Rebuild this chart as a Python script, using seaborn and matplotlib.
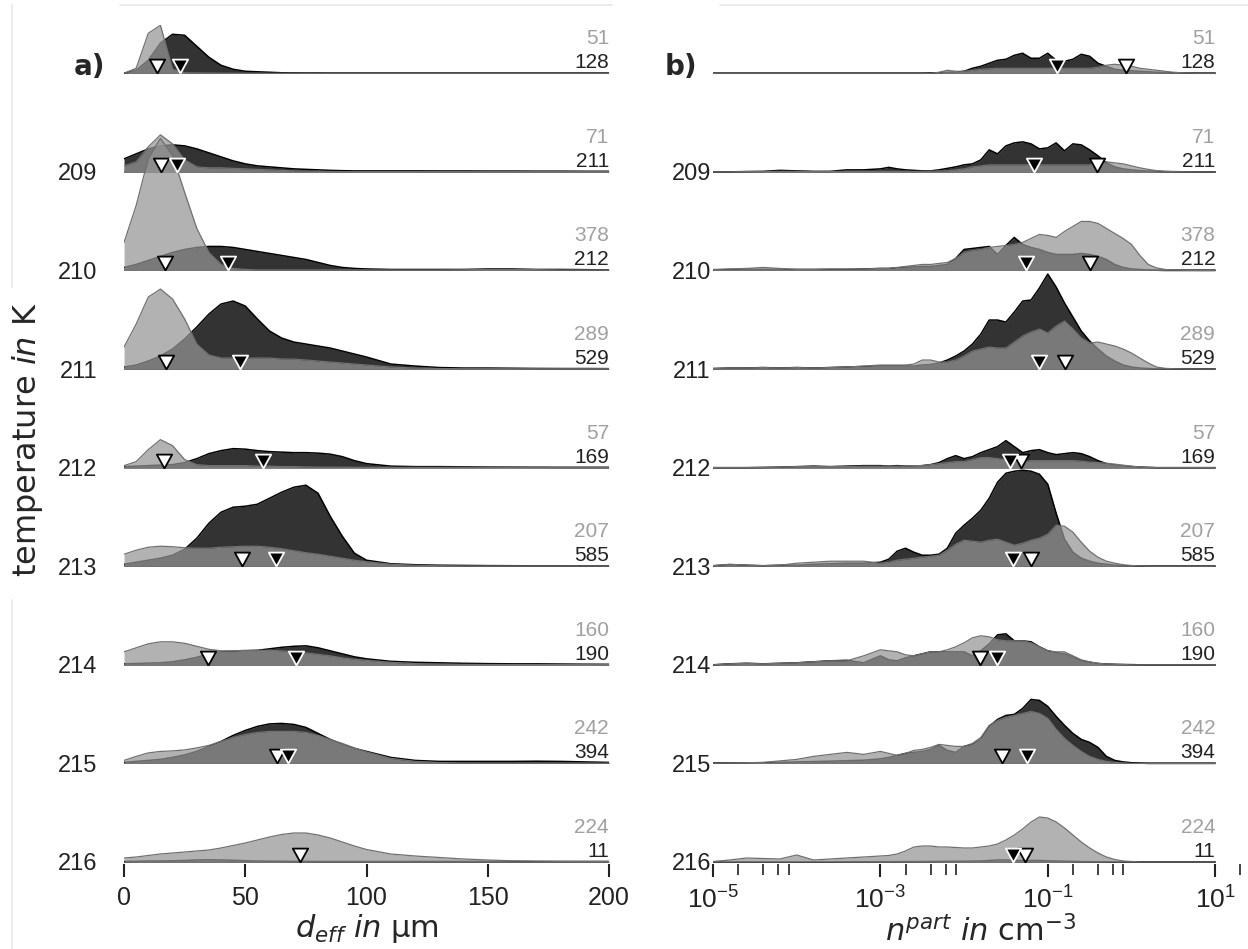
import numpy as np
import matplotlib
matplotlib.use("Agg")
import matplotlib.pyplot as plt
from matplotlib.lines import Line2D
import seaborn as sns

# ---- data ----
# row labels (temperature in K); the first row carries no label
temps = ["", "209", "210", "211", "212", "213", "214", "215", "216"]
n_light = [51, 71, 378, 289, 57, 207, 160, 242, 224]
n_dark = [128, 211, 212, 529, 169, 585, 190, 394, 11]

# panel a) sample points of d_eff in um
d_eff = [0, 5, 10, 15, 20, 25, 30, 35, 40, 45, 50, 55, 60, 65, 70, 75, 80, 85, 90, 95, 100,
         110, 120, 130, 140, 150, 160, 170, 180, 190, 200]

# ridge heights (scaled density) per row, light and dark distribution
a_light_0 = [0, 5, 40, 48, 4, 0.5, 0.3, 0.2, 0.1, 0, 0, 0, 0, 0, 0, 0, 0, 0, 0, 0, 0,
             0, 0, 0, 0, 0, 0, 0, 0, 0, 0]
a_dark_0 = [0, 3, 13, 30, 39, 38, 27, 16, 8, 4, 2, 1.5, 1, 0.5, 0.3, 0.2, 0.2, 0.1, 0.1, 0.1, 0.1,
            0.1, 0.1, 0.1, 0.1, 0.1, 0.1, 0.1, 0.1, 0.1, 0.1]
a_light_1 = [6, 10, 25, 37, 28, 12, 5, 4, 4, 3.5, 3, 2.5, 2, 1.5, 1, 0.7, 0.5, 0.4, 0.3, 0.3, 0.3,
             0.3, 0.3, 0.2, 0.2, 0.2, 0.2, 0.2, 0.2, 0.2, 0.2]
a_dark_1 = [13, 18, 23, 26, 27, 26, 23, 19, 15, 11, 8, 6, 5, 4, 3, 2.5, 2, 1.5, 1.2, 1, 1,
            1, 1, 0.9, 0.9, 0.8, 0.8, 0.7, 0.7, 0.6, 0.6]
a_light_2 = [28, 65, 112, 132, 115, 78, 42, 18, 6, 2, 1, 0.5, 0.5, 0.5, 0.5, 0.5, 0.5, 0.5, 0.5, 0.5, 0.5,
             0.5, 0.5, 0.5, 0.7, 1, 1, 0.8, 0.5, 0.5, 0.5]
a_dark_2 = [3, 6, 10, 14, 18, 21, 23, 24, 24, 23, 21, 19, 17, 15, 13, 11, 8, 5, 3, 2, 1.5,
            1, 1, 1, 1, 1.5, 1.5, 1, 1, 0.8, 0.5]
a_light_3 = [22, 45, 72, 80, 70, 50, 25, 14, 11, 11, 11, 11, 11, 10, 10, 9, 8, 7, 6, 5, 4,
             2, 1, 0.5, 0.3, 0.3, 0.3, 0.3, 0.3, 0.3, 0.3]
a_dark_3 = [2, 4, 8, 13, 20, 30, 42, 55, 65, 68, 63, 50, 38, 31, 27, 25, 23, 21, 18, 15, 12,
            5, 3, 1.5, 1, 1, 0.8, 0.6, 0.5, 0.5, 0.4]
a_light_4 = [2, 6, 18, 28, 22, 8, 3, 2, 2, 2, 2, 1.5, 1.5, 1, 1, 0.7, 0.5, 0.5, 0.4, 0.3, 0.3,
             0.3, 0.3, 0.3, 0.3, 0.3, 0.3, 0.3, 0.3, 0.3, 0.3]
a_dark_4 = [1, 1.5, 2, 2.5, 3, 5, 9, 14, 17, 19, 18.5, 17, 16, 15.5, 15, 15, 14.5, 13.5, 11, 7, 4,
            1.5, 1, 1, 0.8, 0.6, 0.5, 0.4, 0.3, 0.3, 0.3]
a_light_5 = [12, 16, 19, 20, 19.5, 18.5, 18, 18, 19, 19.5, 20, 20, 19, 17.5, 15.5, 13.5, 12, 10, 8, 6, 4.5,
             2, 1, 0.5, 0.3, 0.3, 0.3, 0.3, 0.3, 0.3, 0.3]
a_dark_5 = [2, 4, 6, 8, 11, 17, 28, 43, 54, 59, 60, 62, 68, 74, 79, 81, 73, 50, 30, 13, 6,
            2.5, 1.5, 1, 0.8, 0.6, 0.5, 0.4, 0.3, 0.3, 0.3]
a_light_6 = [13, 17, 21, 23, 23, 21.5, 18.5, 15.5, 14, 14, 14.5, 14.5, 14.5, 14, 13, 12, 10.5, 9, 7, 5.5, 4.5,
             2.5, 1.2, 0.6, 0.4, 0.3, 0.3, 0.3, 0.3, 0.3, 0.3]
a_dark_6 = [1, 1.3, 1.7, 2, 3, 5, 7.5, 11, 13, 13.5, 14, 14.5, 16, 17.5, 18.5, 19, 17, 14, 11, 8, 6,
            3.5, 2.5, 2, 1.5, 1.2, 1, 1, 0.8, 0.6, 0.5]
a_light_7 = [3, 7, 10.5, 12, 12.5, 13.5, 15.5, 18, 22, 26, 29, 31, 32, 32, 32, 31, 28, 24, 20, 15.5, 11.5,
             5, 2, 0.8, 0.4, 0.3, 0.3, 0.3, 0.3, 0.3, 0.3]
a_dark_7 = [1, 2, 3, 4, 6, 8.5, 12, 17, 22, 28, 33, 37, 39.5, 40, 39, 36, 30, 24, 19, 15, 12,
            6, 3, 2, 2, 2, 2, 2.2, 2, 1.5, 1]
a_light_8 = [4, 5, 6.5, 8, 9, 10, 11, 12, 14, 16.5, 19, 22, 25, 27.5, 29, 29, 27, 24, 20, 16, 12.5,
             8, 6, 4.5, 3, 2, 1.2, 0.8, 0.6, 0.5, 0.5]
a_dark_8 = [0.5, 0.7, 1, 1, 1.2, 1.5, 2, 2.2, 2, 1.7, 1.3, 1, 0.8, 0.7, 0.6, 0.6, 0.5, 0.5, 0.5, 0.5, 0.5,
            0.5, 0.5, 0.5, 0.5, 0.5, 0.5, 0.5, 0.5, 0.5, 0.5]

# medians (triangles) in panel a), um
a_med_light = [13.6, 15.3, 17, 17.3, 16.5, 48.7, 34.6, 63, 72.5]
a_med_dark = [23, 22, 43, 48, 57.5, 62.5, 71, 67.5, np.nan]

# panel b) sample points, log10 of n_part in cm^-3
b_log_n = [-5.0, -4.8, -4.6, -4.4, -4.2, -4.0, -3.8, -3.6, -3.4, -3.2,
           -3.0, -2.9, -2.8, -2.7, -2.6, -2.5, -2.4, -2.3, -2.2, -2.1,
           -2.0, -1.9, -1.8, -1.7, -1.6, -1.5, -1.4, -1.3, -1.2, -1.1,
           -1.0, -0.9, -0.8, -0.7, -0.6, -0.5, -0.4, -0.3, -0.2, -0.1,
           0.0, 0.1, 0.2, 0.3, 0.4, 0.5, 0.6, 0.8, 1.0]

b_light_0 = [0, 0, 0, 0, 0, 0, 0, 0, 0, 0,
             0, 0, 0, 0, 0, 0, 0, 1, 3, 2,
             2, 3, 4, 4.5, 5, 5, 5, 5, 5, 5,
             5, 5, 5, 5, 5, 5, 6, 8, 9, 8,
             7, 5, 4, 3, 2, 1, 0.5, 0, 0]
b_dark_0 = [0, 0, 0, 0, 0, 0, 0, 0, 0, 0,
            0, 0, 0, 0, 0, 0, 0.3, 0.5, 1, 1,
            2, 5, 7, 10, 13, 14, 18, 20, 15, 15,
            20, 13, 12, 14, 19, 17, 10, 7, 4, 3,
            2.5, 2, 1.5, 1, 0.7, 0.4, 0.2, 0, 0]
b_light_1 = [0, 0, 0.3, 0.3, 0.5, 0.5, 0.3, 0.3, 0.5, 0.5,
             0.5, 0.5, 0.5, 0.5, 0.5, 0.5, 0.7, 0.8, 1, 2,
             3, 5, 6, 7, 7, 7, 7, 7, 7, 7,
             7, 7, 7, 7, 7, 7, 9, 10, 9, 8,
             6, 4, 2.5, 1.2, 0.5, 0.2, 0.1, 0, 0]
b_dark_1 = [0, 0, 0.3, 0.5, 1.5, 1, 0.5, 0.5, 2, 2,
            3, 4.5, 3, 2, 1.5, 1, 1, 2, 3.5, 5,
            7, 8, 12, 22, 18, 26, 29, 30, 28, 23,
            24, 29, 21, 28, 27, 22, 16, 9, 5, 3,
            2, 1.2, 0.8, 0.5, 0.3, 0.2, 0.1, 0, 0]
b_light_2 = [1, 1.5, 2, 3, 2, 1, 1, 1.5, 1.5, 1.5,
             2, 2, 3, 4, 5, 6, 6, 7, 8, 12,
             18, 20, 21, 23, 24, 25, 26, 28, 32, 36,
             35, 33, 39, 44, 49, 49, 47, 42, 37, 32,
             26, 15, 6, 2.5, 1, 0.4, 0.2, 0, 0]
b_dark_2 = [0.5, 1, 1, 1, 1, 1, 1, 1, 1, 1.5,
            2, 2, 2.5, 3, 3.5, 4, 4, 5, 6, 12,
            21, 22, 23, 24, 16, 25, 33, 26, 23, 21,
            18, 16, 16, 16, 17, 16, 14, 11, 6, 3,
            1.5, 1, 0.5, 0.2, 0, 0, 0, 0, 0]
b_light_3 = [0.5, 1, 1, 1.5, 1, 1.5, 1, 1.5, 2, 3,
             4, 4, 4, 4, 5, 9, 9, 7, 7, 9,
             13, 18, 20, 22, 21, 21, 27, 33, 37, 40,
             36, 43, 48, 40, 31, 26, 27, 25, 23, 20,
             16, 11, 6, 2, 0.7, 0.3, 0.1, 0, 0]
b_dark_3 = [0.5, 1, 1, 1.5, 1, 1.5, 1, 1.5, 2, 2.5,
            3, 3, 3, 3, 3, 4, 4.5, 6, 9, 13,
            18, 25, 35, 49, 49, 47, 57, 68, 69, 81,
            95, 82, 66, 52, 38, 28, 20, 13, 8, 4,
            2, 1, 0.5, 0.2, 0, 0, 0, 0, 0]
b_light_4 = [0, 0, 0, 0.2, 0.5, 1, 1, 1, 1, 1.5,
             1.5, 1.5, 1.5, 1.5, 2, 2, 3, 4, 5, 6,
             6, 8, 10, 10, 9, 8, 7, 6, 7, 7,
             7, 7, 7, 7, 6.5, 5.5, 5, 4.5, 3.5, 2.5,
             1.5, 0.6, 0.1, 0, 0, 0, 0, 0, 0]
b_dark_4 = [0, 0, 0, 0.2, 0.5, 1, 1.5, 1, 1.5, 2,
            2, 1.5, 2, 1.5, 1.5, 2, 3, 5, 9, 12,
            9, 11, 15, 18, 21, 27, 21, 15, 17, 18,
            15, 13, 14, 15, 14, 11, 7, 4, 2.5, 1.5,
            1, 0.5, 0.3, 0, 0, 0, 0, 0, 0]
b_light_5 = [0.5, 2, 1, 0.5, 1, 3, 4, 5, 5, 5,
             3, 4, 6, 7, 8, 9, 10, 11, 16, 22,
             26, 25, 24, 26, 27, 24, 21, 23, 26, 28,
             32, 41, 40, 34, 24, 15, 9, 5, 3, 1.5,
             0.7, 0.3, 0, 0, 0, 0, 0, 0, 0]
b_dark_5 = [0.5, 1.5, 1, 0.5, 1, 1, 2, 2.5, 3, 3,
            4, 7, 15, 18, 14, 11, 11, 12, 18, 33,
            41, 48, 56, 68, 84, 93, 95, 96, 95, 92,
            82, 53, 27, 14, 8, 5, 3, 2, 1, 0.5,
            0.3, 0, 0, 0, 0, 0, 0, 0, 0]
b_light_6 = [0, 1, 1.5, 1, 1.5, 2, 3, 4, 4, 9,
             15, 14, 13, 10, 9, 11, 13, 13, 15, 18,
             22, 27, 29, 28, 25, 24, 24, 24, 22, 18,
             14, 13, 13, 9, 5, 3, 1.5, 0.8, 0.5, 0.3,
             0, 0, 0, 0, 0, 0, 0, 0, 0]
b_dark_6 = [0, 1, 1.5, 1, 1.5, 2, 3, 4, 4.5, 2,
            9, 5, 4, 7, 9, 11, 13, 13, 13, 13,
            13, 9, 14, 21, 30, 31, 24, 24, 23, 18,
            14, 12, 11, 8, 4, 2.5, 1.3, 0.8, 0.5, 0.3,
            0.2, 0, 0, 0, 0, 0, 0, 0, 0]
b_light_7 = [0.3, 0.5, 0.7, 1, 2.5, 4, 7, 9, 11, 9,
             12, 10, 8, 10, 13, 14, 16, 19, 18, 17,
             17, 20, 26, 38, 43, 46, 48, 50, 52, 50,
             45, 34, 25, 18, 12, 7, 4, 2, 1, 0.5,
             0, 0, 0, 0, 0, 0, 0, 0, 0]
b_dark_7 = [0.3, 0.5, 0.5, 0.7, 1, 1.5, 1.8, 2.2, 2.7, 3.2,
            4.5, 6, 8, 10, 11, 12, 14, 18, 13, 11,
            17, 19, 24, 37, 44, 48, 49, 55, 64, 63,
            57, 47, 38, 30, 24, 21, 16, 7, 3, 1.5,
            0.7, 0.3, 0, 0, 0, 0, 0, 0, 0]
b_light_8 = [0.5, 2, 4, 3.5, 3, 7, 2, 3, 4, 5,
             6, 6.5, 8, 11, 15, 16, 16, 15, 15, 14.5,
             14, 14, 15, 16, 18, 22, 27, 33, 40, 45,
             44, 40, 34, 27, 20, 14, 9, 5, 2.5, 1,
             0.5, 0, 0, 0, 0, 0, 0, 0, 0]
b_dark_8 = [0, 0, 0, 0, 0, 0, 0, 0, 0.2, 0.2,
            0.3, 0.3, 0.3, 0.4, 0.4, 0.5, 0.5, 0.6, 0.7, 0.7,
            0.8, 0.9, 1, 1.5, 2, 2, 1.5, 1.5, 1.5, 1.5,
            1.2, 1, 0.8, 0.6, 0.4, 0.3, 0.2, 0.1, 0, 0,
            0, 0, 0, 0, 0, 0, 0, 0, 0]

# medians in panel b), log10 of n_part
b_med_light = [-0.07, -0.41, -0.50, -0.80, -1.32, -1.20, -1.81, -1.55, -1.27]
b_med_dark = [-0.89, -1.16, -1.26, -1.11, -1.45, -1.42, -1.61, -1.25, -1.42]

a_light = [a_light_0, a_light_1, a_light_2, a_light_3, a_light_4, a_light_5, a_light_6, a_light_7, a_light_8]
a_dark = [a_dark_0, a_dark_1, a_dark_2, a_dark_3, a_dark_4, a_dark_5, a_dark_6, a_dark_7, a_dark_8]
b_light = [b_light_0, b_light_1, b_light_2, b_light_3, b_light_4, b_light_5, b_light_6, b_light_7, b_light_8]
b_dark = [b_dark_0, b_dark_1, b_dark_2, b_dark_3, b_dark_4, b_dark_5, b_dark_6, b_dark_7, b_dark_8]

# ---- style ----
sns.set_theme(style="white")
plt.rcParams["font.family"] = ["Liberation Sans", "DejaVu Sans"]
plt.rcParams["mathtext.fontset"] = "dejavusans"

ROW_PX = 98.6          # height units per ridge spacing
LIGHT = "#959595"
DARK = "#333333"
tri = [(0, 0), (-0.55, 1), (0.55, 1), (0, 0)]   # down triangle with tip at the anchor

fig = plt.figure(figsize=(12.48, 9.49), dpi=100)
ax_a = fig.add_axes([0.0994, 0.0896, 0.3886, 0.8841])
ax_b = fig.add_axes([0.5713, 0.0896, 0.4287, 0.8841])


def draw_ridges(ax, x, light_rows, dark_rows, med_light, med_dark, x_end):
    x = np.asarray(x, dtype=float)
    for i in range(9):
        base = 8 - i
        z = 2 + i
        ax.plot([x[0], x_end], [base, base], color="#7f7f7f", lw=1.3, zorder=z)
        yd = base + np.asarray(dark_rows[i]) / ROW_PX
        ax.fill_between(x, base, yd, color=DARK, lw=0, zorder=z)
        sns.lineplot(x=x, y=yd, ax=ax, color="black", lw=1.1, zorder=z,
                     estimator=None, sort=False, legend=False)
        yl = base + np.asarray(light_rows[i]) / ROW_PX
        ax.fill_between(x, base, yl, color=LIGHT, alpha=0.72, lw=0, zorder=z)
        sns.lineplot(x=x, y=yl, ax=ax, color="#707070", lw=0.9, zorder=z,
                     estimator=None, sort=False, legend=False)
        # counts of light / dark samples
        ax.text(x_end, base + 5 / ROW_PX, str(n_dark[i]), ha="right", va="baseline",
                fontsize=15, color="#222222", zorder=30)
        ax.text(x_end, base + 29 / ROW_PX, str(n_light[i]), ha="right", va="baseline",
                fontsize=15, color="#a0a0a0", zorder=30)
    bases = 8 - np.arange(9)
    ax.scatter(med_light, bases, marker=tri, s=400, facecolor="white",
               edgecolor="black", linewidth=1.3, zorder=40)
    ax.scatter(med_dark, bases, marker=tri, s=400, facecolor="black",
               edgecolor="white", linewidth=1.3, zorder=40)
    ax.set_yticks(bases)
    ax.set_yticklabels(temps, fontsize=17, color="#222222")
    sns.despine(ax=ax, left=True, bottom=True)
    ax.grid(False)


draw_ridges(ax_a, d_eff, a_light, a_dark, a_med_light, a_med_dark, 200)
ax_a.set_xticks([0, 50, 100, 150, 200])
ax_a.set_xlim(0, 200)
ax_a.set_ylim(-0.02, 8.49)
ax_a.tick_params(axis="x", direction="out", length=9, width=1.5, color="#222222",
                 pad=7, labelsize=18, labelcolor="#222222", bottom=True)
ax_a.tick_params(axis="y", length=0, pad=19)
ax_a.set_xlabel(r"$d_{eff}$ $in$ µm", fontsize=22, family="DejaVu Sans", labelpad=1)

x_b = np.power(10.0, b_log_n)
draw_ridges(ax_b, x_b, b_light, b_dark, np.power(10.0, b_med_light),
            np.power(10.0, b_med_dark), 10.0)
ax_b.set_xscale("log")
ax_b.set_xticks([1e-5, 1e-3, 1e-1, 1e1])
ax_b.set_xticklabels([r"$\mathregular{10^{-5}}$", r"$\mathregular{10^{-3}}$",
                      r"$\mathregular{10^{-1}}$", r"$\mathregular{10^{1}}$"])
minor = [m * 10.0 ** e for e in (-5, -3, -1) for m in (2, 4, 6, 8)] + [20.0]
ax_b.set_xticks(minor, minor=True)
ax_b.set_xticklabels([], minor=True)
ax_b.set_xlim(1e-5, 10 ** 1.392)
ax_b.set_ylim(-0.02, 8.49)
ax_b.tick_params(axis="x", which="major", direction="out", length=9, width=1.5,
                 color="#222222", pad=7, labelsize=19, labelcolor="#222222", bottom=True)
ax_b.tick_params(axis="x", which="minor", direction="out", length=8, width=1.2,
                 color="#222222", bottom=True)
ax_b.tick_params(axis="y", length=0, pad=1.5)
ax_b.set_xlabel(r"$n^{part}$ $in$ cm$^{-3}$", fontsize=22, family="DejaVu Sans", labelpad=1)

# panel letters and shared y label
fig.text(90 / 1248, 1 - 67 / 949, "a)", fontsize=20, fontweight="bold",
         family="DejaVu Sans", ha="center", va="center")
fig.text(681 / 1248, 1 - 67 / 949, "b)", fontsize=20, fontweight="bold",
         family="DejaVu Sans", ha="center", va="center")
fig.text(28 / 1248, 1 - 440 / 949, r"temperature $\it{in}$ K", rotation=90,
         fontsize=23, family="DejaVu Sans", ha="center", va="center")

# faint panel frame lines from the original figure
for xs, ys in [((120, 612), (5, 5)), ((720, 1248), (5, 5)),
               ((12, 12), (5, 287)), ((12, 12), (600, 949))]:
    fig.add_artist(Line2D([v / 1248 for v in xs], [1 - v / 949 for v in ys],
                          color="#e6e6e6", lw=1.2))

fig.savefig("out.png", dpi=100)
